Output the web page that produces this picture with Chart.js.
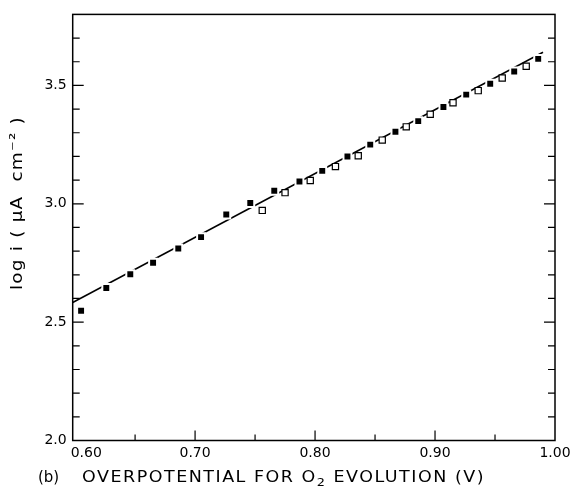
<!DOCTYPE html>
<html>
<head>
<meta charset="utf-8">
<script src="https://cdn.jsdelivr.net/npm/chart.js@4.4.0/dist/chart.umd.min.js"></script>
<style>
  html,body{margin:0;padding:0;background:#fff}
  canvas{display:block}
</style>
</head>
<body>
<canvas id="tafel" width="578" height="486"></canvas>
<script>
// filled squares
const filledX = [0.605,0.626,0.646,0.665,0.686,0.705,0.726,0.746,0.766,0.787,0.806,0.827,0.846,0.867,0.886,0.907,0.926,0.946,0.966,0.986];
const filledY = [2.548,2.644,2.702,2.751,2.811,2.859,2.955,3.003,3.055,3.094,3.139,3.200,3.250,3.304,3.349,3.409,3.461,3.507,3.559,3.612];
// open squares
const openX = [0.756,0.775,0.796,0.817,0.836,0.856,0.876,0.896,0.915,0.936,0.956,0.976];
const openY = [2.972,3.047,3.098,3.157,3.203,3.269,3.325,3.378,3.427,3.478,3.531,3.581];
// fitted straight line
const fitX = [0.598, 0.99];
const fitY = [2.583, 3.64];

const xLabels = [0.60, 0.70, 0.80, 0.90, 1.00];
const yLabels = [2.0, 2.5, 3.0, 3.5];
const xMarks = [0.65, 0.70, 0.75, 0.80, 0.85, 0.90, 0.95];
const yMarks = [2.1,2.2,2.3,2.4,2.5,2.6,2.7,2.8,2.9,3.0,3.1,3.2,3.3,3.4,3.5,3.6,3.7];

const pts = (xs, ys) => xs.map((x, i) => ({ x, y: ys[i] }));
const FONT = 'DejaVu Sans';

// draws text parts stretched horizontally so they fill [x0, x1]
function stretchText(ctx, parts, x0, x1, y, gap){
  const widths = parts.map(p => { ctx.font = `${p.size}px ${FONT}`; return ctx.measureText(p.t).width; });
  const nat = widths.reduce((a, b) => a + b, 0);
  const chars = parts.reduce((a, p) => a + p.t.length, 0);
  const k = (x1 - x0 - gap * chars) / nat;
  ctx.save();
  ctx.letterSpacing = (gap / k) + 'px';
  ctx.translate(x0, 0);
  ctx.scale(k, 1);
  let cx = 0;
  parts.forEach((p, i) => {
    ctx.font = `${p.size}px ${FONT}`;
    ctx.fillText(p.t, cx, y + (p.dy || 0));
    cx += widths[i] + (gap / k) * p.t.length;
  });
  ctx.restore();
}

// frame + inward tick marks, drawn from the chart's own scales
const framePlugin = {
  id: 'frame',
  afterDatasetsDraw(chart){
    const { ctx, chartArea: a, scales: { x, y } } = chart;
    ctx.save();
    ctx.strokeStyle = '#000';
    ctx.lineWidth = 1.5;
    ctx.strokeRect(a.left, a.top, a.right - a.left, a.bottom - a.top);
    ctx.lineWidth = 1.2;
    ctx.beginPath();
    xMarks.forEach(v => {
      const px = x.getPixelForValue(v);
      const len = Math.abs(v * 10 - Math.round(v * 10)) < 1e-6 ? 10 : 6;
      ctx.moveTo(px, a.bottom); ctx.lineTo(px, a.bottom - len);
    });
    yMarks.forEach(v => {
      const py = y.getPixelForValue(v);
      const len = Math.abs(v * 2 - Math.round(v * 2)) < 1e-6 ? 11 : 7;
      ctx.moveTo(a.left, py); ctx.lineTo(a.left + len, py);
      ctx.moveTo(a.right, py); ctx.lineTo(a.right - len, py);
    });
    ctx.stroke();
    ctx.restore();
  },
  afterDraw(chart){
    const { ctx } = chart;
    ctx.save();
    ctx.fillStyle = '#000';
    ctx.textBaseline = 'alphabetic';
    // x title
    ctx.font = `15px ${FONT}`;
    ctx.fillText('(b)', 38, 482);
    stretchText(ctx, [
      { t: 'OVERPOTENTIAL FOR O', size: 15 },
      { t: '2', size: 11, dy: 4 },
      { t: ' EVOLUTION (V)', size: 15 }
    ], 82, 485, 482, 1.5);
    // y title
    ctx.translate(22, 203);
    ctx.rotate(-Math.PI / 2);
    stretchText(ctx, [
      { t: 'log i ( μA  cm', size: 15 },
      { t: '⁻²', size: 15, dy: -2 },
      { t: ' )', size: 15 }
    ], -87, 87, 0, 1.2);
    ctx.restore();
  }
};

new Chart(document.getElementById('tafel'), {
  type: 'scatter',
  data: {
    datasets: [
      { label: 'filled', data: pts(filledX, filledY), pointStyle: 'rect', pointRadius: 5.6,
        backgroundColor: '#000', borderColor: '#fff', borderWidth: 2 },
      { label: 'open', data: pts(openX, openY), pointStyle: 'rect', pointRadius: 4.4,
        backgroundColor: '#fff', borderColor: '#000', borderWidth: 1.2 },
      { label: 'fit', type: 'line', data: pts(fitX, fitY), showLine: true, pointRadius: 0,
        borderColor: '#000', borderWidth: 1.5, fill: false }
    ]
  },
  options: {
    responsive: false,
    animation: false,
    events: [],
    layout: { padding: { top: 12, right: 23, left: 0, bottom: 0 } },
    plugins: { legend: { display: false }, tooltip: { enabled: false } },
    scales: {
      x: {
        type: 'linear', min: 0.598, max: 1.0,
        grid: { display: false, drawTicks: false }, border: { display: false },
        afterBuildTicks: s => { s.ticks = xLabels.map(v => ({ value: v })); },
        afterFit: s => { s.height = 45.5; },
        ticks: { padding: 4, color: '#000', font: { family: FONT, size: 14 }, maxRotation: 0, autoSkip: false,
          callback: v => (v < 0.65 ? '     ' : '') + Number(v).toFixed(2) }
      },
      y: {
        type: 'linear', min: 2.0, max: 3.8,
        grid: { display: false, drawTicks: false }, border: { display: false },
        afterBuildTicks: s => { s.ticks = yLabels.map(v => ({ value: v })); },
        afterFit: s => { s.width = 72.7; },
        ticks: { padding: 6, color: '#000', font: { family: FONT, size: 14 },
          callback: v => Number(v).toFixed(1) }
      }
    }
  },
  plugins: [framePlugin]
});
</script>
</body>
</html>
